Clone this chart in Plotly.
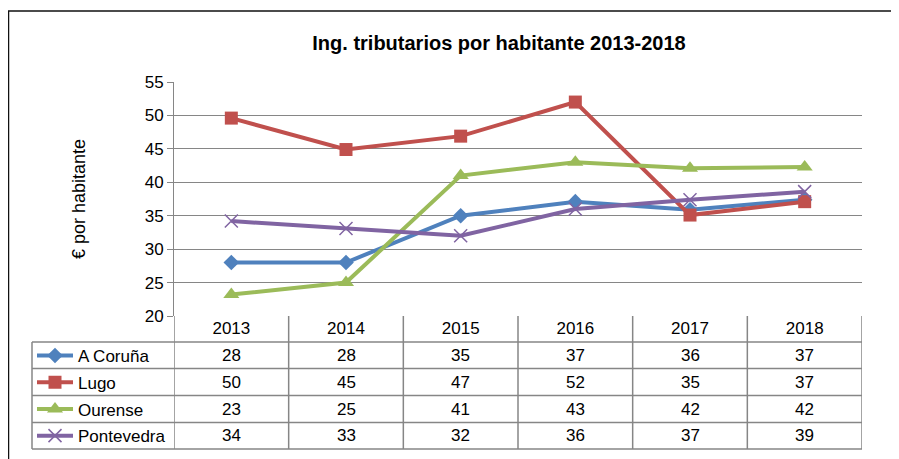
import plotly.graph_objects as go

years = ["2013", "2014", "2015", "2016", "2017", "2018"]
a_coruna = [28.0, 28.0, 35.0, 37.1, 35.9, 37.4]
lugo = [49.6, 44.9, 46.9, 52.0, 35.1, 37.1]
ourense = [23.2, 25.0, 41.0, 43.0, 42.1, 42.3]
pontevedra = [34.2, 33.1, 32.0, 36.0, 37.4, 38.6]

series_names = ["A Coruña", "Lugo", "Ourense", "Pontevedra"]
series_values = [a_coruna, lugo, ourense, pontevedra]
colors = ["#4F81BD", "#C0504D", "#9BBB59", "#8064A2"]
symbols = ["diamond", "square", "triangle-up", "x-thin"]
msizes = [12, 13, 14, 13]

title_text = "Ing. tributarios por habitante 2013-2018"
y_title = "€ por habitante"

FONT = "Arial, Liberation Sans, sans-serif"
GRID = "#868686"

OFF = 8  # page body margin
W, H = 899 - OFF, 459 - OFF
# screen-pixel layout of the plot area
SL, SR, ST, SB = 174, 862, 82, 316
L, T = SL - OFF, ST - OFF
R, B = W - (SR - OFF), H - (SB - OFF)
plot_h = SB - ST
plot_w = SR - SL


def py(pix):  # screen pixel y -> paper y
    return (SB - pix) / plot_h


def px(pix):  # screen pixel x -> paper x
    return (pix - SL) / plot_w


fig = go.Figure()
for i, (name, vals) in enumerate(zip(series_names, series_values)):
    mk = dict(symbol=symbols[i], size=msizes[i], color=colors[i])
    if symbols[i] == "x-thin":
        mk["line"] = dict(color=colors[i], width=1.5)
    fig.add_trace(go.Scatter(
        x=years, y=vals, name=name, mode="lines+markers",
        line=dict(color=colors[i], width=4),
        marker=mk, legendgroup=name,
    ))

# table rows (screen pixel positions of row boundaries)
row_edges = [342, 368.5, 395.5, 422.5, 449]
shapes = []
line_style = dict(color=GRID, width=1.5)
for ye in row_edges:
    shapes.append(dict(type="line", xref="paper", yref="paper",
                       x0=px(32), x1=1, y0=py(ye), y1=py(ye), line=line_style))
for k in range(len(years) + 1):
    shapes.append(dict(type="line", xref="x", yref="paper",
                       x0=k - 0.5, x1=k - 0.5, y0=0, y1=py(449), line=line_style))
shapes.append(dict(type="line", xref="paper", yref="paper",
                   x0=px(32), x1=px(32), y0=py(342), y1=py(449), line=line_style))
# outer chart border
shapes.append(dict(type="path", xref="paper", yref="paper",
                   path=f"M {px(8.5)},{py(470)} L {px(8.5)},{py(11)} L {px(910)},{py(11)}",
                   line=dict(color="#111111", width=1.5)))

annotations = []
for r, vals in enumerate(series_values):
    yc = (row_edges[r] + row_edges[r + 1]) / 2
    for k, v in enumerate(vals):
        annotations.append(dict(x=k, xref="x", y=py(yc), yref="paper",
                                text=f"{v:.0f}", showarrow=False,
                                font=dict(family=FONT, size=17, color="#000000"),
                                xanchor="center", yanchor="middle"))

fig.update_layout(
    width=W, height=H,
    margin=dict(l=L, r=R, t=T, b=B, autoexpand=False),
    paper_bgcolor="white", plot_bgcolor="white",
    font=dict(family=FONT, size=17, color="#000000"),
    title=dict(text=f"<b>{title_text}</b>", x=(499 - OFF) / W, xanchor="center",
               y=1 - (43 - OFF) / H, yanchor="middle",
               font=dict(family=FONT, size=20, color="#000000")),
    xaxis=dict(type="category", range=[-0.5, 5.5], showgrid=False,
               showline=False, ticks="", tickfont=dict(size=17),
               zeroline=False),
    yaxis=dict(range=[20, 55], dtick=5, showgrid=True, gridcolor=GRID,
               gridwidth=1, showline=True, linecolor=GRID, linewidth=1,
               ticks="outside", ticklen=6, tickcolor=GRID,
               tickfont=dict(size=17), zeroline=False,
               title=dict(text=y_title, font=dict(size=18), standoff=54)),
    legend=dict(x=px(32), xanchor="left", y=py(338), yanchor="top",
                bgcolor="rgba(0,0,0,0)", tracegroupgap=1.6,
                font=dict(family=FONT, size=17), itemwidth=36),
    showlegend=True,
    shapes=shapes,
    annotations=annotations,
)

fig.write_html("out.html")
